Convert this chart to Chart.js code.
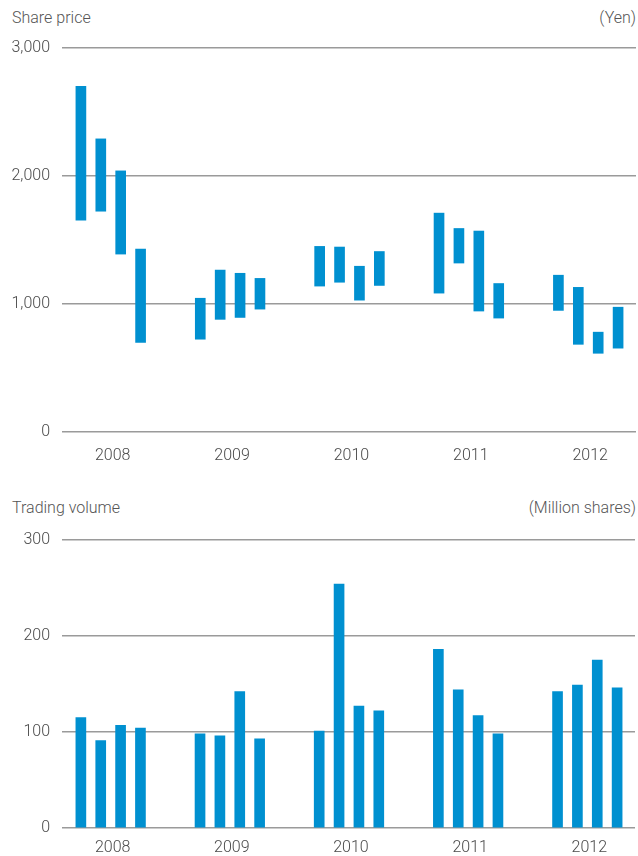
<!DOCTYPE html>
<html>
<head>
<meta charset="utf-8">
<script src="https://cdn.jsdelivr.net/npm/chart.js@4/dist/chart.umd.min.js"></script>
<style>
  html, body { margin: 0; padding: 0; background: #ffffff; }
  body { width: 638px; height: 856px; position: relative; overflow: hidden;
         font-family: Roboto, "Liberation Sans", sans-serif; font-weight: 300; color: #555; }
  .lbl { position: absolute; font-size: 16px; line-height: 20px; white-space: nowrap; }
  canvas { position: absolute; left: 0; }
</style>
</head>
<body>
<div class="lbl" style="left:12px; top:8px;">Share price</div>
<div class="lbl" style="right:2px; top:8px;">(Yen)</div>
<div class="lbl" style="left:12px; top:498px;">Trading volume</div>
<div class="lbl" style="right:2px; top:498px;">(Million shares)</div>
<canvas id="price" width="638" height="480" style="top:0px;"></canvas>
<canvas id="volume" width="638" height="366" style="top:490px;"></canvas>
<script>
// ---- data ----
const years = ['2008', '2009', '2010', '2011', '2012'];
const quarters = ['Q1', 'Q2', 'Q3', 'Q4'];
const priceHigh = [2700, 2290, 2040, 1430, 1045, 1265, 1240, 1200, 1450, 1445, 1295, 1410, 1710, 1590, 1570, 1160, 1225, 1130, 780, 975];
const priceLow  = [1655, 1725, 1390, 700, 725, 880, 895, 960, 1140, 1170, 1030, 1145, 1085, 1320, 945, 890, 950, 685, 615, 655];
const volume    = [115, 91, 107, 104, 98, 96, 142, 93, 101, 254, 127, 122, 186, 144, 117, 98, 142, 149, 175, 146];
const priceTicks = [0, 1000, 2000, 3000];
const volumeTicks = [0, 100, 200, 300];

// ---- layout helpers ----
const slotsPerYear = 6;
const slotPos = years.flatMap((y, yi) => quarters.map((q, qi) => yi * slotsPerYear + qi));
const yearTickPos = years.map((y, yi) => yi * slotsPerYear + 1.6);
const BLUE = '#0090d0';
const GRID = '#9a9a9a';
const TICK_COLOR = '#4a4a4a';
const FONT = { family: 'Roboto, "Liberation Sans", sans-serif', size: 16, weight: 300 };

function makeX(height, pad) {
  return {
    type: 'linear', min: -0.95, max: 27.9, offset: false,
    grid: { display: false, drawTicks: false, offset: false },
    border: { display: false },
    afterBuildTicks: (s) => { s.ticks = yearTickPos.map(v => ({ value: v })); },
    afterFit: (s) => { s.height = height; },
    ticks: { autoSkip: false, maxRotation: 0, padding: pad, color: TICK_COLOR, font: FONT,
             callback: (v, i) => years[i] }
  };
}
function makeY(tickVals, fmt) {
  return {
    min: tickVals[0], max: tickVals[tickVals.length - 1],
    afterBuildTicks: (s) => { s.ticks = tickVals.map(v => ({ value: v })); },
    afterFit: (s) => { s.width = 62; },
    grid: { color: GRID, lineWidth: 1.5, drawTicks: false },
    border: { display: false },
    ticks: { padding: 12, color: TICK_COLOR, font: FONT, callback: fmt }
  };
}
const common = {
  responsive: false, animation: false,
  plugins: { legend: { display: false }, tooltip: { enabled: false } }
};

new Chart(document.getElementById('price'), {
  type: 'bar',
  data: { datasets: [{
    data: slotPos.map((x, i) => ({ x: x, y: [priceLow[i], priceHigh[i]] })),
    backgroundColor: BLUE, barThickness: 10, borderWidth: 0
  }] },
  options: Object.assign({}, common, {
    layout: { padding: { top: 48, right: 2, bottom: 0, left: 0 } },
    scales: {
      x: makeX(48, 14),
      y: makeY(priceTicks, (v) => Number(v).toLocaleString('en-US'))
    }
  })
});

new Chart(document.getElementById('volume'), {
  type: 'bar',
  data: { datasets: [{
    data: slotPos.map((x, i) => ({ x: x, y: volume[i] })),
    backgroundColor: BLUE, barThickness: 10, borderWidth: 0
  }] },
  options: Object.assign({}, common, {
    layout: { padding: { top: 50, right: 3, bottom: 0, left: 0 } },
    scales: {
      x: makeX(28, 10),
      y: makeY(volumeTicks, (v) => String(v))
    }
  })
});
</script>
</body>
</html>
